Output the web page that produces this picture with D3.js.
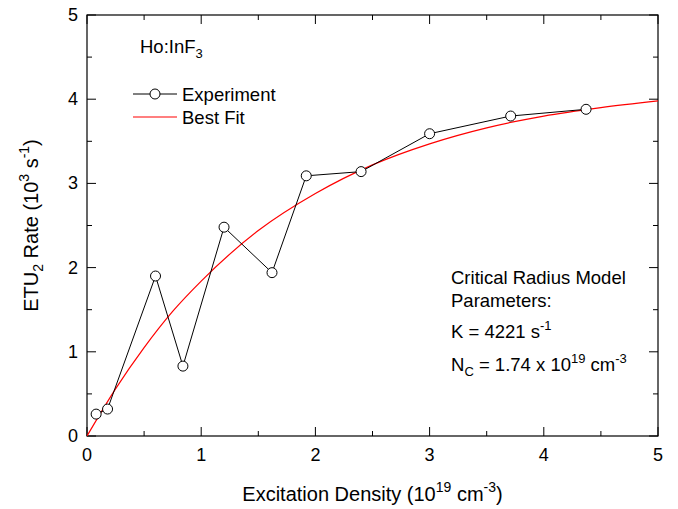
<!DOCTYPE html>
<html>
<head>
<meta charset="UTF-8">
<title>ETU2 Rate</title>
<script src="https://cdn.jsdelivr.net/npm/d3@7"></script>
<style>
  body { margin: 0; background: #fff; }
  text { font-family: Arial, "Liberation Sans", sans-serif; fill: #000; }
</style>
</head>
<body>
<div id="app"></div>
<script>
    // experiment (10^19 cm^-3 , 10^3 s^-1)
    var expX = [0.08, 0.18, 0.60, 0.84, 1.20, 1.62, 1.92, 2.40, 3.00, 3.71, 4.37];
    var expY = [0.26, 0.32, 1.90, 0.83, 2.48, 1.94, 3.09, 3.14, 3.59, 3.80, 3.88];
    // best fit curve
    var fitX = [0, 0.25, 0.5, 0.75, 1, 1.5, 2, 2.5, 3, 3.5, 4, 4.5, 5];
    var fitY = [0, 0.56, 1.05, 1.48, 1.84, 2.44, 2.88, 3.22, 3.47, 3.66, 3.80, 3.90, 3.98];
    var xTicks = [0, 1, 2, 3, 4, 5];
    var yTicks = [0, 1, 2, 3, 4, 5];

    var W = 678, H = 509;
    var mL = 87, mR = 658, mT = 15, mB = 436;
    var fs = '18.5px', fsSup = '13px';
    var fsTick = '18px', fsTitle = '20px', fsTitleSup = '14px';

    var x = d3.scaleLinear().domain([0, 5]).range([mL, mR]);
    var y = d3.scaleLinear().domain([0, 5]).range([mB, mT]);

    var svg = d3.select('#app').append('svg')
        .attr('width', W).attr('height', H);

    var minor = d3.range(0, 5.01, 0.5);

    // ticks pointing inward, on all four sides
    function drawTicks(g, scale, orient) {
        minor.forEach(function(v){
            var len = (Math.abs(v - Math.round(v)) < 1e-6) ? 9 : 5;
            var p = scale(v);
            var l = g.append('line').attr('stroke', '#000').attr('stroke-width', 1);
            if (orient == 'bottom') l.attr('x1', p).attr('x2', p).attr('y1', mB).attr('y2', mB - len);
            if (orient == 'top') l.attr('x1', p).attr('x2', p).attr('y1', mT).attr('y2', mT + len);
            if (orient == 'left') l.attr('y1', p).attr('y2', p).attr('x1', mL).attr('x2', mL + len);
            if (orient == 'right') l.attr('y1', p).attr('y2', p).attr('x1', mR).attr('x2', mR - len);
        });
    }
    var tg = svg.append('g');
    drawTicks(tg, x, 'bottom');
    drawTicks(tg, x, 'top');
    drawTicks(tg, y, 'left');
    drawTicks(tg, y, 'right');

    svg.append('rect')
        .attr('x', mL).attr('y', mT)
        .attr('width', mR - mL).attr('height', mB - mT)
        .attr('fill', 'none').attr('stroke', '#000').attr('stroke-width', 1.2);

    // tick labels
    svg.selectAll('.xl').data(xTicks).enter().append('text')
        .attr('x', function(d){ return x(d); })
        .attr('y', mB + 25)
        .attr('text-anchor', 'middle')
        .style('font-size', fsTick)
        .text(function(d){ return d; });
    svg.selectAll('.yl').data(yTicks).enter().append('text')
        .attr('x', mL - 9)
        .attr('y', function(d){ return y(d) + 6; })
        .attr('text-anchor', 'end')
        .style('font-size', fsTick)
        .text(function(d){ return d; });

    // axis titles
    var xt = svg.append('text')
        .attr('x', (mL + mR) / 2).attr('y', 501)
        .attr('text-anchor', 'middle')
        .style('font-size', fsTitle);
    xt.append('tspan').text('Excitation Density (10');
    xt.append('tspan').attr('dy', -9).style('font-size', fsTitleSup).text('19');
    xt.append('tspan').attr('dy', 9).text(' cm');
    xt.append('tspan').attr('dy', -9).style('font-size', fsTitleSup).text('-3');
    xt.append('tspan').attr('dy', 9).text(')');

    var yt = svg.append('text')
        .attr('transform', 'translate(38,' + ((mT + mB) / 2) + ') rotate(-90)')
        .attr('text-anchor', 'middle')
        .style('font-size', fsTitle);
    yt.append('tspan').text('ETU');
    yt.append('tspan').attr('dy', 5).style('font-size', fsTitleSup).text('2');
    yt.append('tspan').attr('dy', -5).text(' Rate (10');
    yt.append('tspan').attr('dy', -9).style('font-size', fsTitleSup).text('3');
    yt.append('tspan').attr('dy', 9).text(' s');
    yt.append('tspan').attr('dy', -9).style('font-size', fsTitleSup).text('-1');
    yt.append('tspan').attr('dy', 9).text(')');

    // clip
    svg.append('clipPath').attr('id', 'clip').append('rect')
        .attr('x', mL).attr('y', mT).attr('width', mR - mL).attr('height', mB - mT);

    // fit curve
    var fitData = fitX.map(function(d, i){ return [d, fitY[i]]; });
    svg.append('path')
        .datum(fitData)
        .attr('clip-path', 'url(#clip)')
        .attr('fill', 'none').attr('stroke', '#ff0000').attr('stroke-width', 1.2)
        .attr('d', d3.line().x(function(d){ return x(d[0]); }).y(function(d){ return y(d[1]); })
            .curve(d3.curveMonotoneX));

    // experiment
    var expData = expX.map(function(d, i){ return [d, expY[i]]; });
    svg.append('path')
        .datum(expData)
        .attr('fill', 'none').attr('stroke', '#000').attr('stroke-width', 1)
        .attr('d', d3.line().x(function(d){ return x(d[0]); }).y(function(d){ return y(d[1]); }));
    svg.selectAll('.pt').data(expData).enter().append('circle')
        .attr('cx', function(d){ return x(d[0]); })
        .attr('cy', function(d){ return y(d[1]); })
        .attr('r', 5)
        .attr('fill', '#fff').attr('stroke', '#000').attr('stroke-width', 1);

    // sample label
    var ho = svg.append('text').attr('x', 140).attr('y', 53).style('font-size', fs);
    ho.append('tspan').text('Ho:InF');
    ho.append('tspan').attr('dy', 5).style('font-size', fsSup).text('3');

    // legend
    svg.append('line').attr('x1', 133).attr('x2', 177).attr('y1', 94).attr('y2', 94)
        .attr('stroke', '#000');
    svg.append('circle').attr('cx', 155).attr('cy', 94).attr('r', 5)
        .attr('fill', '#fff').attr('stroke', '#000');
    svg.append('text').attr('x', 182).attr('y', 101).style('font-size', fs).text('Experiment');
    svg.append('line').attr('x1', 133).attr('x2', 177).attr('y1', 117).attr('y2', 117)
        .attr('stroke', '#ff0000').attr('stroke-width', 1.2);
    svg.append('text').attr('x', 182).attr('y', 124).style('font-size', fs).text('Best Fit');

    // parameters
    var px = 451;
    svg.append('text').attr('x', px).attr('y', 284).style('font-size', fs).text('Critical Radius Model');
    svg.append('text').attr('x', px).attr('y', 307).style('font-size', fs).text('Parameters:');
    var k = svg.append('text').attr('x', px).attr('y', 338).style('font-size', fs);
    k.append('tspan').text('K = 4221 s');
    k.append('tspan').attr('dy', -8).style('font-size', fsSup).text('-1');
    var nc = svg.append('text').attr('x', px).attr('y', 371).style('font-size', fs);
    nc.append('tspan').text('N');
    nc.append('tspan').attr('dy', 5).style('font-size', fsSup).text('C');
    nc.append('tspan').attr('dy', -5).text(' = 1.74 x 10');
    nc.append('tspan').attr('dy', -8).style('font-size', fsSup).text('19');
    nc.append('tspan').attr('dy', 8).text(' cm');
    nc.append('tspan').attr('dy', -8).style('font-size', fsSup).text('-3');
</script>
</body>
</html>
